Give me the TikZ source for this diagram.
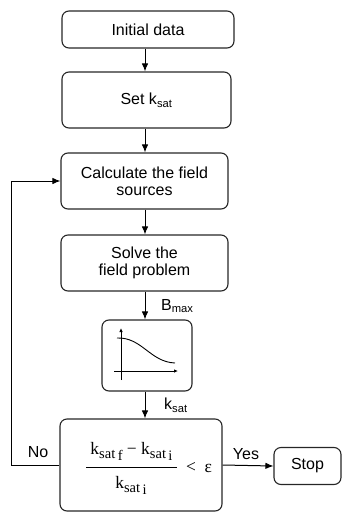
\documentclass[tikz,border=0pt]{standalone}
\usepackage{fontspec}
\setmainfont{Liberation Sans}
\newfontfamily\serif{Liberation Serif}
\usetikzlibrary{arrows.meta}
\newcommand\ksub[1]{k\raisebox{-4.5pt}{\fontsize{14.5}{14}\selectfont sat\,\raisebox{-1.5pt}{#1}}}
\begin{document}
\begin{tikzpicture}[x=1pt,y=-1pt,
  box/.style={draw=black!85, rounded corners=7pt, line width=1.1pt, align=center, inner sep=0pt,
    font=\fontsize{16}{17}\selectfont},
  arr/.style={-{Latex[length=8pt,width=6.5pt]}, line width=1pt},
  garr/.style={-{Latex[length=4pt,width=3.5pt]}, line width=0.9pt},
  lbl/.style={inner sep=0pt, font=\fontsize{16}{17}\selectfont},
  frm/.style={inner sep=0pt, font=\serif\fontsize{17.5}{18}\selectfont}]
\useasboundingbox (0,0) rectangle (342,512);
\coordinate (col) at (145,0);
\coordinate (loopx) at (11,0);
\node[box, minimum width=172pt, minimum height=37pt] (init) at (148,29.5) {Initial data};
\node[box, minimum width=169pt, minimum height=56pt] (set) at (146.5,100) {Set k\textsubscript{sat}};
\node[box, minimum width=167pt, minimum height=56pt] (calc) at (144.5,181) {Calculate the field\\sources};
\node[box, minimum width=167pt, minimum height=56pt] (solve) at (144.5,263) {Solve the\\field problem};
\node[box, minimum width=90pt, minimum height=71pt] (graph) at (147,355.5) {};
\node[box, minimum width=162pt, minimum height=92pt] (dec) at (141,465) {};
\node[box, minimum width=67pt, minimum height=37pt] (stop) at (307.5,466) {Stop};
% graph icon
\draw[garr] (121,380) -- (121,328);
\draw[garr] (114,371) -- (178,371);
\draw[line width=0.9pt] (117,338) .. controls (142,337) and (150,362) .. (175,363);
% formula
\node[frm] (num) at (131.5,451) {\ksub{f} − \ksub{i}};
\draw[line width=1pt] (86,467) -- (177,467);
\node[frm] (den) at (131,485) {\ksub{i}};
\node[frm] (lt) at (199,468) {<\enspace ε};
% connectors
\draw[arr] (init.south -| col) -- (set.north -| col);
\draw[arr] (set.south -| col) -- (calc.north -| col);
\draw[arr] (calc.south -| col) -- (solve.north -| col);
\draw[arr] (solve.south -| col) -- (graph.north -| col);
\draw[arr] (graph.south -| col) -- (dec.north -| col);
\draw[arr] (dec.east) -- (stop.west);
\draw[arr] (dec.west) -- (dec.west -| loopx) |- (calc.west);
% labels
\node[lbl, anchor=west] (bmax) at (161,306) {B\textsubscript{max}};
\node[lbl, anchor=west] (ksat) at (164,405) {k\textsubscript{sat}};
\node[lbl] (no) at (38,452) {No};
\node[lbl] (yes) at (246,454) {Yes};
\end{tikzpicture}
\end{document}
